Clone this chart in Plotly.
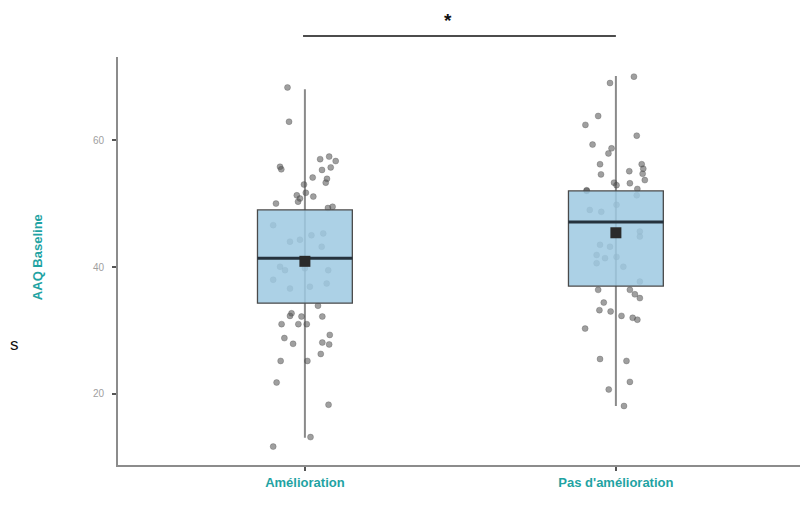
import plotly.graph_objects as go

# ---------------- data ----------------
categories = ["Amélioration", "Pas d'amélioration"]
cat_pos = [0, 1]

q1 = [34.3, 37.0]
median = [41.4, 47.1]
q3 = [49.0, 52.0]
whisker_low = [13.1, 18.1]
whisker_high = [68.0, 70.1]
means = [40.9, 45.4]

# individual observations (values) and horizontal jitter offsets (category units)
amel_values = [68.3, 62.9, 55.8, 55.4, 57.0, 57.4, 56.7, 55.7, 55.3, 54.1, 53.9, 53.3,
               53.0, 51.3, 50.8, 51.7, 51.1, 50.0, 49.5, 49.3, 50.3,
               46.6, 44.0, 44.3, 45.0, 45.3, 43.2, 40.05, 39.5, 38.0, 36.6, 36.9, 37.4,
               39.5, 39.8,
               33.9, 32.7, 32.3, 32.2, 32.2, 31.0, 31.0, 31.0, 29.3, 28.8, 27.9, 28.1,
               27.8, 26.3, 25.2, 25.2, 21.8, 18.3, 13.2, 11.7]
amel_jitter = [-0.056, -0.051, -0.080, -0.076, 0.049, 0.078, 0.099, 0.083, 0.055, 0.025, 0.071, 0.067,
               -0.003, -0.026, -0.016, 0.003, 0.027, -0.093, 0.089, 0.074, -0.022,
               -0.102, -0.048, -0.016, 0.021, 0.059, 0.054, -0.080, -0.064, -0.102, -0.048, 0.016, 0.070,
               0.075, 0.000,
               0.042, -0.043, -0.048, -0.011, 0.056, -0.075, -0.021, 0.006, 0.080, -0.066, -0.038, 0.056,
               0.078, 0.051, -0.078, 0.008, -0.091, 0.076, 0.018, -0.102]

pas_values = [70.0, 69.0, 63.8, 62.4, 60.7, 59.3, 58.7, 57.9, 56.2, 56.2, 55.5, 55.1,
              54.6, 54.7, 53.7, 53.3, 53.2, 52.3, 52.0,
              52.1, 52.9, 51.3, 49.0, 48.7, 49.8, 45.6, 44.8, 43.5, 43.2, 41.9, 41.4,
              41.6, 40.6, 40.05, 37.7,
              36.4, 36.4, 35.7, 35.1, 34.4, 33.2, 33.0, 32.3, 32.0, 31.7, 30.3, 25.5,
              25.2, 21.9, 20.7, 18.1]
pas_jitter = [0.058, -0.019, -0.057, -0.098, 0.067, -0.075, -0.014, -0.024, -0.051, 0.083, 0.088, 0.043,
              -0.048, 0.086, 0.093, -0.006, 0.045, 0.069, -0.094,
              -0.094, 0.002, 0.067, -0.084, -0.047, 0.002, 0.077, 0.077, -0.051, -0.019, -0.062, -0.035,
              0.002, -0.062, 0.024, 0.077,
              -0.057, 0.045, 0.061, 0.077, -0.039, -0.053, -0.017, 0.018, 0.054, 0.069, -0.099, -0.051,
              0.034, 0.045, -0.023, 0.026]

sig_label = "*"
sig_level = 76.4     # y value of the significance bracket

y_ticks = [20, 40, 60]
y_range = [8.8, 73.1]
x_range = [-0.601, 1.592]

# ---------------- styling ----------------
teal = "#1fa3a3"
box_fill = "rgba(158,201,226,0.86)"
box_line = "#4a4a4a"
median_color = "#25323d"
point_color = "rgba(80,80,80,0.55)"
whisker_color = "#8a8a8a"
box_width = 0.305

fig = go.Figure()

# whiskers (behind boxes, base axes)
for i in range(2):
    fig.add_trace(go.Scatter(
        x=[cat_pos[i], cat_pos[i]], y=[whisker_low[i], whisker_high[i]],
        mode="lines", line=dict(color=whisker_color, width=2),
        hoverinfo="skip", showlegend=False, xaxis="x", yaxis="y"))

# jittered points (base axes, drawn below boxes)
fig.add_trace(go.Scatter(
    x=[cat_pos[0] + j for j in amel_jitter], y=amel_values, mode="markers",
    marker=dict(color=point_color, size=6, line=dict(color="rgba(60,60,60,0.45)", width=0.6)),
    showlegend=False, xaxis="x", yaxis="y"))
fig.add_trace(go.Scatter(
    x=[cat_pos[1] + j for j in pas_jitter], y=pas_values, mode="markers",
    marker=dict(color=point_color, size=6, line=dict(color="rgba(60,60,60,0.45)", width=0.6)),
    showlegend=False, xaxis="x", yaxis="y"))

# boxes on overlay axes so they cover the points
fig.add_trace(go.Box(
    x=cat_pos, q1=q1, median=median, q3=q3, lowerfence=q1, upperfence=q3,
    width=box_width, fillcolor=box_fill, line=dict(color=box_line, width=1.3),
    whiskerwidth=0, showlegend=False, hoverinfo="skip", xaxis="x2", yaxis="y2"))

# median lines
for i in range(2):
    fig.add_trace(go.Scatter(
        x=[cat_pos[i] - box_width / 2, cat_pos[i] + box_width / 2], y=[median[i], median[i]],
        mode="lines", line=dict(color=median_color, width=3),
        hoverinfo="skip", showlegend=False, xaxis="x2", yaxis="y2"))

# mean markers
fig.add_trace(go.Scatter(
    x=cat_pos, y=means, mode="markers",
    marker=dict(symbol="square", size=11, color="#2a2a2a"),
    showlegend=False, xaxis="x2", yaxis="y2"))

axis_common = dict(showgrid=False, zeroline=False)

fig.update_layout(
    width=810, height=521,
    margin=dict(l=110, r=18, t=49, b=64),
    plot_bgcolor="white", paper_bgcolor="white",
    font=dict(family="Liberation Sans, Arial, sans-serif"),
    xaxis=dict(range=x_range, tickvals=cat_pos,
               ticktext=["<b>" + c + "</b>" for c in categories],
               showline=True, linecolor="#8c8c8c", linewidth=1.6,
               ticks="outside", ticklen=4, tickwidth=1.6, tickcolor="#555555",
               tickfont=dict(color=teal, size=13, family="Liberation Sans, Arial, sans-serif"),
               ticklabelstandoff=1, **axis_common),
    yaxis=dict(range=y_range, tickvals=y_ticks,
               showline=True, linecolor="#8c8c8c", linewidth=1.6,
               ticks="outside", ticklen=4, tickwidth=1.6, tickcolor="#555555",
               tickfont=dict(color="#a0a0a0", size=10),
               ticklabelstandoff=6, **axis_common),
    xaxis2=dict(range=x_range, overlaying="x", visible=False, **axis_common),
    yaxis2=dict(range=y_range, overlaying="y", visible=False, **axis_common),
)

def ypaper(v):
    return (v - y_range[0]) / (y_range[1] - y_range[0])

# significance bracket
fig.add_shape(type="line", xref="x", yref="paper",
              x0=cat_pos[0] - 0.006, x1=cat_pos[1], y0=ypaper(sig_level), y1=ypaper(sig_level),
              line=dict(color="#111111", width=1.6))
fig.add_annotation(text="<b>" + sig_label + "</b>", xref="x", yref="paper",
                   x=0.46, y=1.117, showarrow=False,
                   xanchor="center", yanchor="top", borderpad=0,
                   font=dict(size=19, color="#111111"))

# y axis title
fig.add_annotation(text="<b>AAQ Baseline</b>", xref="paper", yref="paper",
                   x=-0.117, y=0.51, textangle=-90, showarrow=False,
                   xanchor="center", yanchor="middle",
                   font=dict(size=13, color=teal))

# stray cropped text at left edge
fig.add_annotation(text="s", xref="paper", yref="paper", x=-0.152, y=0.295,
                   showarrow=False, xanchor="center", yanchor="middle",
                   font=dict(size=17, color="#111111"))

fig.write_html("out.html")
